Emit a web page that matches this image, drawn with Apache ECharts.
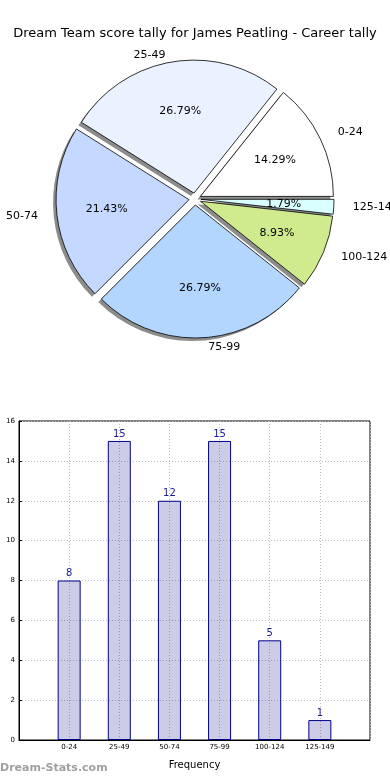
<!DOCTYPE html>
<html><head><meta charset="utf-8">
<script src="https://cdn.jsdelivr.net/npm/echarts@6/dist/echarts.min.js"></script>
<style>html,body{margin:0;padding:0;background:#fff}#c{width:390px;height:780px}</style>
</head><body><div id="c"></div>
<script>
var categories = ['0-24','25-49','50-74','75-99','100-124','125-149'];
var tallies = [8, 15, 12, 15, 5, 1];
var pieColors = ['#ffffff','#eaf1ff','#c5d8ff','#b3d6ff','#d0ea8e','#d9ffff'];
var yTicks = {min: 0, max: 16, step: 2};
var chartTitle = 'Dream Team score tally for James Peatling - Career tally';

var total = tallies.reduce(function(a,b){return a+b;},0);
var R = 133;
var CX = 195, CY = 199;
var font = 'DejaVu Sans';
var labelLens = [14, 7, 14, 9, 14, 14];
var pieData = categories.map(function(c,i){
  return {name:c, value:tallies[i], selected:true, itemStyle:{color:pieColors[i]}, labelLine:{length:labelLens[i], length2:0}};
});
var common = {type:'pie', radius:[0,R], startAngle:0, clockwise:false, selectedMode:'multiple', selectedOffset:6,
  emphasis:{disabled:true}, silent:true};
var chart = echarts.init(document.getElementById('c'));
chart.setOption({
  animation:false,
  textStyle:{fontFamily:font},
  title:{text:chartTitle, left:'center', top:22, textStyle:{fontFamily:font, fontSize:13, fontWeight:'normal', color:'#000'}},
  grid:{left:19, right:20, top:421, bottom:40, show:true, borderColor:'#000', borderWidth:1, containLabel:false, outerBoundsMode:'none'},
  xAxis:{type:'value', min:0, max:categories.length+1, interval:1,
    name:'Frequency', nameLocation:'middle', nameGap:20, nameTextStyle:{fontSize:10, color:'#000', fontFamily:font},
    axisLine:{show:true, lineStyle:{color:'#000'}}, axisTick:{show:false},
    axisLabel:{fontSize:7, color:'#000', margin:4, formatter:function(v){return categories[v-1]||'';}},
    splitLine:{show:true, lineStyle:{color:'#bdbdbd', type:[1,2], width:1}}},
  yAxis:{type:'value', min:yTicks.min, max:yTicks.max, interval:yTicks.step,
    name:'Score Tally', nameLocation:'middle', nameRotate:90, nameGap:18, nameTextStyle:{fontSize:9, color:'#000', fontFamily:font},
    axisLine:{show:true, lineStyle:{color:'#000'}}, axisTick:{show:true, inside:true, length:3, lineStyle:{color:'#000'}},
    axisLabel:{fontSize:7, color:'#000', margin:4},
    splitLine:{show:true, lineStyle:{color:'#bdbdbd', type:[1,2], width:1}}},
  graphic:[{type:'text', left:0, top:763, style:{text:'Dream-Stats.com', fill:'#a0a0a0', font:'bold 11px "DejaVu Sans"'}}],
  series:[
    Object.assign({}, common, {center:[CX-3,CY+3], z:1,
     data:categories.map(function(c,i){return {name:c, value:tallies[i], selected:true};}),
     itemStyle:{color:'rgba(0,0,0,0.45)', borderWidth:0},
     label:{show:false}, labelLine:{show:false}}),
    Object.assign({}, common, {center:[CX,CY], z:2, data:pieData,
     itemStyle:{borderColor:'#000', borderWidth:0.8},
     label:{show:true, position:'outside', fontSize:11, color:'#000', fontFamily:font, formatter:'{b}', overflow:'none', edgeDistance:0},
     labelLine:{show:false, length:14, length2:0}}),
    Object.assign({}, common, {center:[CX,CY], radius:[R*0.2,R], z:3,
     data:categories.map(function(c,i){return {name:c, value:tallies[i], selected:true};}),
     itemStyle:{color:'rgba(0,0,0,0)', borderWidth:0},
     label:{show:true, position:'inside', fontSize:11, color:'#000', fontFamily:font,
       formatter:function(p){return (p.value/total*100).toFixed(2)+'%';}},
     labelLine:{show:false}}),
    {type:'bar', data:tallies.map(function(v,i){return [i+1,v];}), barWidth:23,
     itemStyle:{color:'rgba(0,0,128,0.2)', borderColor:'#00008b', borderWidth:1},
     label:{show:true, position:'top', distance:2, fontSize:10, color:'#1a1a9c', fontFamily:font}, silent:true}
  ]
});
</script></body></html>
